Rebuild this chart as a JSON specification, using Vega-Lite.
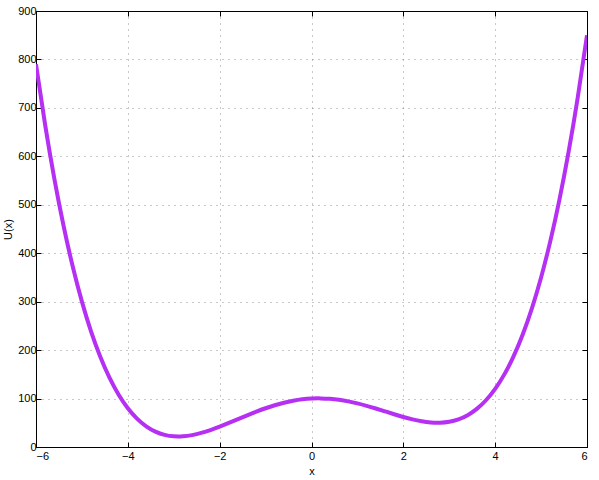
{
  "$schema": "https://vega.github.io/schema/vega-lite/v6.json",
  "width": 551,
  "height": 436,
  "autosize": {"type": "none"},
  "padding": {"left": 36, "top": 11, "right": 12, "bottom": 33},
  "background": "white",
  "config": {
    "view": {"stroke": "black", "strokeWidth": 1},
    "font": "Liberation Sans",
    "axis": {
      "labelFont": "Liberation Sans",
      "titleFont": "Liberation Sans",
      "labelFontSize": 11,
      "titleFontSize": 11,
      "titleFontWeight": "normal",
      "labelColor": "black",
      "titleColor": "black",
      "domainColor": "black",
      "tickColor": "black",
      "tickSize": -5,
      "gridColor": "#777",
      "gridDash": [1, 5],
      "gridOpacity": 0.8
    }
  },
  "data": {"values": [
    {"x": -6.0, "u": 790}, {"x": -5.8, "u": 664.41}, {"x": -5.6, "u": 553.69}, {"x": -5.4, "u": 456.75},
    {"x": -5.2, "u": 372.52}, {"x": -5.0, "u": 300}, {"x": -4.8, "u": 238.2}, {"x": -4.6, "u": 186.19},
    {"x": -4.4, "u": 143.05}, {"x": -4.2, "u": 107.93}, {"x": -4.0, "u": 80}, {"x": -3.8, "u": 58.47},
    {"x": -3.6, "u": 42.6}, {"x": -3.4, "u": 31.67}, {"x": -3.2, "u": 25.02}, {"x": -3.0, "u": 22},
    {"x": -2.8, "u": 22.03}, {"x": -2.6, "u": 24.54}, {"x": -2.4, "u": 29.02}, {"x": -2.2, "u": 34.99},
    {"x": -2.0, "u": 42}, {"x": -1.8, "u": 49.66}, {"x": -1.6, "u": 57.59}, {"x": -1.4, "u": 65.48},
    {"x": -1.2, "u": 73.03}, {"x": -1.0, "u": 80}, {"x": -0.8, "u": 86.17}, {"x": -0.6, "u": 91.37},
    {"x": -0.4, "u": 95.47}, {"x": -0.2, "u": 98.36}, {"x": 0.0, "u": 100}, {"x": 0.2, "u": 100.36},
    {"x": 0.4, "u": 99.47}, {"x": 0.6, "u": 97.37}, {"x": 0.8, "u": 94.17}, {"x": 1.0, "u": 90},
    {"x": 1.2, "u": 85.03}, {"x": 1.4, "u": 79.48}, {"x": 1.6, "u": 73.59}, {"x": 1.8, "u": 67.66},
    {"x": 2.0, "u": 62}, {"x": 2.2, "u": 56.99}, {"x": 2.4, "u": 53.02}, {"x": 2.6, "u": 50.54},
    {"x": 2.8, "u": 50.03}, {"x": 3.0, "u": 52}, {"x": 3.2, "u": 57.02}, {"x": 3.4, "u": 65.67},
    {"x": 3.6, "u": 78.6}, {"x": 3.8, "u": 96.47}, {"x": 4.0, "u": 120}, {"x": 4.2, "u": 149.93},
    {"x": 4.4, "u": 187.05}, {"x": 4.6, "u": 232.19}, {"x": 4.8, "u": 286.2}, {"x": 5.0, "u": 350},
    {"x": 5.2, "u": 424.52}, {"x": 5.4, "u": 510.75}, {"x": 5.6, "u": 609.69}, {"x": 5.8, "u": 722.41},
    {"x": 6.0, "u": 850}
  ]},
  "layer": [
    {
      "mark": {"type": "line", "color": "#b530f2", "strokeWidth": 4, "interpolate": "natural", "clip": true},
      "encoding": {
        "x": {"field": "x", "type": "quantitative", "scale": {"domain": [-6, 6], "nice": false, "zero": false},
          "axis": {"orient": "bottom", "title": "x", "values": [-6, -4, -2, 0, 2, 4, 6], "grid": true, "titlePadding": 4, "labelPadding": 8}},
        "y": {"field": "u", "type": "quantitative", "scale": {"domain": [0, 900], "nice": false},
          "axis": {"orient": "left", "title": "U(x)", "values": [0, 100, 200, 300, 400, 500, 600, 700, 800, 900], "grid": true, "titlePadding": 4, "labelPadding": 5}}
      }
    },
    {
      "mark": {"type": "line", "opacity": 0},
      "encoding": {
        "x": {"field": "x", "type": "quantitative",
          "axis": {"orient": "top", "title": null, "labels": false, "values": [-6, -4, -2, 0, 2, 4, 6], "grid": false}},
        "y": {"field": "u", "type": "quantitative",
          "axis": {"orient": "right", "title": null, "labels": false, "values": [0, 100, 200, 300, 400, 500, 600, 700, 800, 900], "grid": false}}
      }
    }
  ],
  "resolve": {"axis": {"x": "independent", "y": "independent"}}
}
